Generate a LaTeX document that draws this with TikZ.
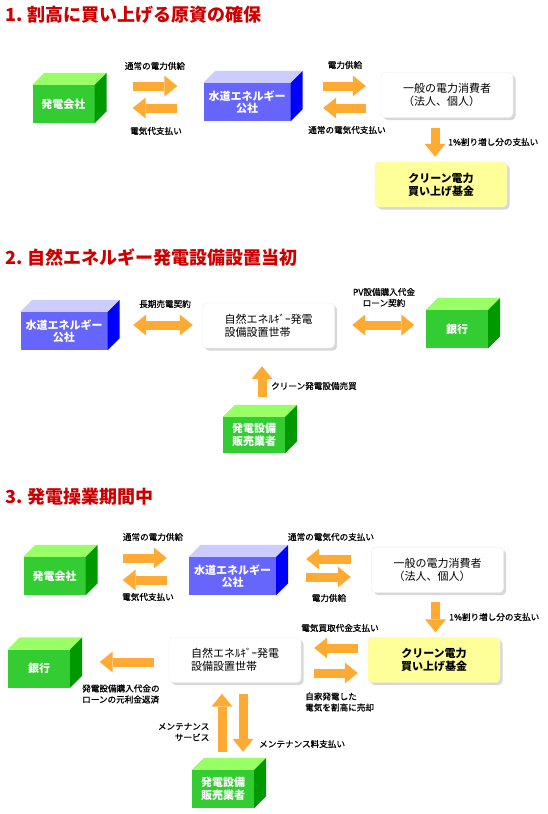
\documentclass[tikz,border=0pt]{standalone}
\usepackage{fontspec}
\setmainfont{Noto Sans CJK JP}
\newfontfamily\lblfont[FakeBold=0.8]{Noto Sans CJK JP}
\usepackage{tikz}
\usetikzlibrary{arrows.meta,calc,shadows}
\definecolor{ttlred}{HTML}{CC0000}
\definecolor{gfront}{HTML}{33CC33}
\definecolor{gtop}{HTML}{99FF66}
\definecolor{gside}{HTML}{009900}
\definecolor{bfront}{HTML}{6666FF}
\definecolor{btop}{HTML}{CCCCFF}
\definecolor{bside}{HTML}{0000FF}
\definecolor{fundyel}{HTML}{FFFF99}
\definecolor{arrorange}{HTML}{FFAA33}
\tikzset{
  fathead/.tip={Triangle[width=21pt,length=13pt,line width=0pt]},
  fat/.style={draw=arrorange,line width=9pt,-fathead},
  fatboth/.style={fat,fathead-fathead},
  ttl/.style={anchor=west,inner sep=0pt,text=ttlred,font=\fontsize{18}{20}\selectfont\bfseries},
  lbl/.style={inner sep=0pt,align=center,font=\lblfont\fontsize{8.6}{11}\selectfont},
  cube/.style={minimum width=62pt,minimum height=38pt,inner sep=0pt,align=center,
    text=white,font=\fontsize{11}{12.5}\selectfont\bfseries},
  gcube/.style={cube,fill=gfront},
  bcube/.style={cube,fill=bfront,minimum width=87pt},
  whitebox/.style={rounded corners=4pt,fill=white,draw=black!8,minimum width=132pt,
    minimum height=45pt,align=left,font=\fontsize{11}{13}\selectfont,
    drop shadow={shadow xshift=2.5pt,shadow yshift=-2.5pt,opacity=0.3}},
  fundbox/.style={whitebox,fill=fundyel,align=center,font=\fontsize{11}{13}\selectfont\bfseries}
}
\begin{document}
\begin{tikzpicture}[x=1pt,y=-1pt]
\useasboundingbox[fill=white] (0,0) rectangle (548,814);

\node[ttl] (t1) at (5,15) {1. 割高に買い上げる原資の確保};
\node[gcube] (gen1) at (63.5,104) {発電会社};
\node[bcube] (pub1) at (247,102) {水道エネルギー\\公社};
\node[whitebox] (con1) at (447,95) {一般の電力消費者\\（法人、個人）};
\node[fundbox] (fund1) at (441,184.5) {クリーン電力\\買い上げ基金};
\draw[fat] ($(gen1.east)+(38,-18)$) -- ($(pub1.west)+(-26,-16)$);
\draw[fat] ($(pub1.west)+(-26,6)$) -- ($(gen1.east)+(38,4)$);
\draw[fat] ($(pub1.east)+(32.5,-16)$) -- ($(con1.west)+(-15,-9)$);
\draw[fat] ($(con1.west)+(-15,13)$) -- ($(pub1.east)+(32.5,6)$);
\draw[fat] ($(con1.south)+(-12,10)$) -- ($(fund1.north)+(-6,-5)$);
\node[lbl] (l1a) at (155,66) {通常の電力供給};
\node[lbl] (l1b) at (156,131) {電気代支払い};
\node[lbl] (l1c) at (345,65) {電力供給};
\node[lbl] (l1d) at (347,130) {通常の電気代支払い};
\node[lbl,anchor=west] (l1e) at (448,142) {1\%割り増し分の支払い};

\node[ttl] (t2) at (5,257) {2. 自然エネルギー発電設備設置当初};
\node[bcube] (pub2) at (64,331) {水道エネルギー\\公社};
\node[whitebox] (home2) at (268.5,325.5) {自然エネﾙｷﾞｰ発電\\設備設置世帯};
\node[gcube] (bank2) at (457,329) {銀行};
\node[gcube,minimum height=36pt] (sell2) at (254,435) {発電設備\\販売業者};
\draw[fatboth] ($(pub2.east)+(25.5,-6)$) -- ($(home2.west)+(-9.5,-0.5)$);
\draw[fatboth] ($(home2.east)+(17.5,-0.5)$) -- ($(bank2.west)+(-11.5,-4)$);
\draw[fat] ($(sell2.north)+(8,-20)$) -- ($(home2.south)+(-6.5,18)$);
\node[lbl] (l2a) at (165,304) {長期売電契約};
\node[lbl] (l2b) at (384,297.5) {PV設備購入代金\\ローン契約};
\node[lbl,anchor=west] (l2c) at (271,386) {クリーン発電設備売買};

\node[ttl] (t3) at (5,497) {3. 発電操業期間中};
\node[gcube] (gen3) at (54.5,576) {発電会社};
\node[bcube] (pub3) at (232.5,576) {水道エネルギー\\公社};
\node[whitebox] (con3) at (437.5,570) {一般の電力消費者\\（法人、個人）};
\node[fundbox] (fund3) at (434,660) {クリーン電力\\買い上げ基金};
\node[whitebox] (home3) at (235,660) {自然エネﾙｷﾞｰ発電\\設備設置世帯};
\node[gcube] (bank3) at (39,668.5) {銀行};
\node[gcube] (sell3) at (223,789) {発電設備\\販売業者};
\draw[fat] ($(gen3.east)+(37,-18)$) -- ($(pub3.west)+(-22,-18)$);
\draw[fat] ($(pub3.west)+(-22,4)$) -- ($(gen3.east)+(37,4)$);
\draw[fat] ($(con3.west)+(-20.5,-11)$) -- ($(pub3.east)+(30,-17)$);
\draw[fat] ($(pub3.east)+(30,1)$) -- ($(con3.west)+(-20.5,7)$);
\draw[fat] ($(con3.south)+(-2,9)$) -- ($(fund3.north)+(1.5,-5)$);
\draw[fat] ($(fund3.west)+(-10,-12)$) -- ($(home3.east)+(13,-12)$);
\draw[fat] ($(home3.east)+(13,13)$) -- ($(fund3.west)+(-10,13)$);
\draw[fat] ($(home3.west)+(-15,2)$) -- ($(bank3.east)+(29.5,-6.5)$);
\draw[fat] ($(sell3.north)+(-1,-18)$) -- ($(home3.south)+(-13,11)$);
\draw[fat] ($(home3.south)+(8,11)$) -- ($(sell3.north)+(20,-18)$);
\node[lbl] (l3a) at (153,537) {通常の電力供給};
\node[lbl] (l3b) at (148,597) {電気代支払い};
\node[lbl] (l3c) at (331,537) {通常の電気代の支払い};
\node[lbl] (l3d) at (329,598) {電力供給};
\node[lbl,anchor=west] (l3e) at (449,617) {1\%割り増し分の支払い};
\node[lbl] (l3f) at (340,628) {電気買取代金支払い};
\node[lbl,anchor=west,align=left] (l3g) at (305,702) {自家発電した\\電気を割高に売却};
\node[lbl,anchor=west,align=left] (l3h) at (82,694) {発電設備購入代金の\\ローンの元利金返済};
\node[lbl,anchor=east,align=right] (l3i) at (209.5,732) {メンテナンス\\サービス};
\node[lbl,anchor=west] (l3j) at (259,744) {メンテナンス料支払い};

\foreach \n/\t/\s in {gen1/gtop/gside,pub1/btop/bside,pub2/btop/bside,bank2/gtop/gside,
  sell2/gtop/gside,gen3/gtop/gside,pub3/btop/bside,bank3/gtop/gside,sell3/gtop/gside}{
  \fill[\t] (\n.north west) -- ++(12,-12) -- ($(\n.north east)+(12,-12)$) -- (\n.north east) -- cycle;
  \fill[\s] (\n.north east) -- ++(12,-12) -- ($(\n.south east)+(12,-12)$) -- (\n.south east) -- cycle;
}
\end{tikzpicture}
\end{document}
